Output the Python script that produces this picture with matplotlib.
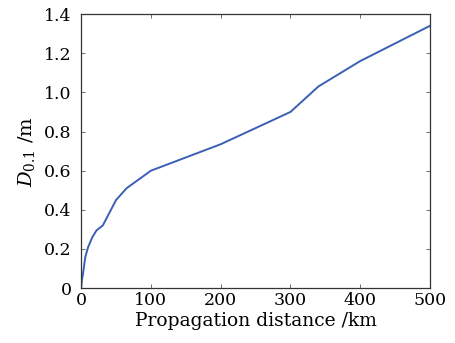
import matplotlib
matplotlib.use("Agg")
import matplotlib.pyplot as plt

# distance (km) vs D0.1 (m)
dist = [0, 1, 2.5, 6, 10, 16, 22, 31, 50, 65, 100, 200, 300, 340, 400, 500]
d01 = [0, 0.04, 0.07, 0.16, 0.21, 0.26, 0.295, 0.32, 0.45, 0.51, 0.6, 0.735, 0.9, 1.03, 1.16, 1.34]

xticks = [0, 100, 200, 300, 400, 500]
yticks = [0, 0.2, 0.4, 0.6, 0.8, 1.0, 1.2, 1.4]
yticklabels = ["0", "0.2", "0.4", "0.6", "0.8", "1.0", "1.2", "1.4"]

plt.rcParams['font.family'] = 'DejaVu Serif'
plt.rcParams['mathtext.fontset'] = 'dejavuserif'

fig = plt.figure(figsize=(4.56, 3.43), dpi=100)
ax = fig.add_axes([0.178, 0.160, 0.765, 0.799])
ax.plot(dist, d01, color='#3a5fb5', lw=1.4)

ax.set_xlim(0, 500)
ax.set_ylim(0, 1.4)
ax.set_xticks(xticks)
ax.set_yticks(yticks)
ax.set_yticklabels(yticklabels)
ax.tick_params(direction='in', top=True, right=True, labelsize=12.5,
               length=3, width=0.6, color='#555555')
ax.tick_params(axis='x', pad=3)
ax.tick_params(axis='y', pad=7)
for s in ax.spines.values():
    s.set_color('#333333')
    s.set_linewidth(0.9)

ax.set_xlabel('Propagation distance /km', fontsize=13.5, labelpad=2)
ax.set_ylabel(r'$D_{0.1}$ /m', fontsize=14, labelpad=5)

fig.savefig('out.png', dpi=100)
